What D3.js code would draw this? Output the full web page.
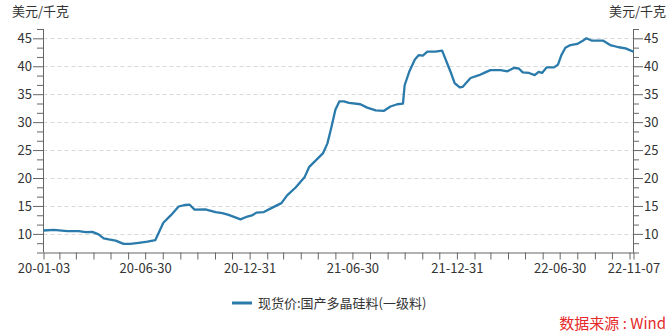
<html>
<head>
<meta charset="utf-8">
<style>
  body { margin: 0; background: #fff; }
  text { font-family: "Noto Sans CJK SC", "Microsoft YaHei", sans-serif; }
</style>
</head>

<body>
  <svg id="svg" width="670" height="333"></svg>

  <script src="https://cdn.jsdelivr.net/npm/d3@7/dist/d3.min.js"></script>
  <script type="text/javascript">
  // 现货价:国产多晶硅料(一级料), 美元/千克
  let dates = [
    "2020-01-03","2020-01-21","2020-02-14","2020-03-05","2020-03-17","2020-03-29",
    "2020-04-09","2020-04-18","2020-04-27","2020-05-09","2020-05-23","2020-06-04",
    "2020-06-22","2020-07-04","2020-07-18","2020-08-01","2020-08-14","2020-08-28",
    "2020-09-09","2020-09-16","2020-09-25","2020-10-14","2020-11-01","2020-11-13",
    "2020-11-24","2020-12-15","2020-12-27","2021-01-04","2021-01-12","2021-01-25",
    "2021-02-09","2021-02-25","2021-03-07","2021-03-22","2021-04-07","2021-04-15",
    "2021-04-27","2021-05-09","2021-05-17","2021-05-24","2021-05-31","2021-06-07",
    "2021-06-15","2021-06-24","2021-07-14","2021-07-26","2021-08-10","2021-08-24",
    "2021-09-05","2021-09-17","2021-09-27","2021-09-30","2021-10-08","2021-10-18",
    "2021-10-25","2021-11-01","2021-11-09","2021-11-23","2021-12-05","2021-12-14",
    "2021-12-21","2021-12-27","2022-01-05","2022-01-10","2022-01-24","2022-02-08",
    "2022-02-19","2022-02-28","2022-03-18","2022-03-30","2022-04-10","2022-04-19",
    "2022-04-26","2022-05-07","2022-05-17","2022-05-24","2022-05-30","2022-06-07",
    "2022-06-20","2022-06-27","2022-07-03","2022-07-10","2022-07-19","2022-07-31",
    "2022-08-09","2022-08-16","2022-08-25","2022-09-04","2022-09-14","2022-09-27",
    "2022-10-12","2022-10-24","2022-11-07"
  ];
  let prices = [
    10.6,10.7,10.5,10.5,10.3,10.35,
    9.9,9.2,9.0,8.8,8.2,8.2,
    8.45,8.6,8.9,12.0,13.3,14.9,
    15.2,15.25,14.35,14.4,13.9,13.7,
    13.4,12.6,13.1,13.3,13.8,13.9,
    14.7,15.5,16.9,18.3,20.2,22.0,
    23.2,24.4,26.2,29.1,32.2,33.7,
    33.7,33.45,33.2,32.6,32.1,32.0,
    32.8,33.2,33.3,36.6,39.0,41.2,
    42.0,41.9,42.6,42.6,42.8,40.5,
    38.7,37.0,36.2,36.3,37.9,38.4,
    38.9,39.3,39.3,39.1,39.7,39.6,
    38.9,38.8,38.4,39.0,38.8,39.8,
    39.8,40.3,42.0,43.3,43.8,44.0,
    44.5,45.0,44.6,44.6,44.6,43.8,
    43.4,43.2,42.6
  ];
  let xLabels = ["2020-01-03","2020-06-30","2020-12-31","2021-06-30","2021-12-31","2022-06-30","2022-11-07"];
  let yLabels = [10, 15, 20, 25, 30, 35, 40, 45];
  let seriesName = "现货价:国产多晶硅料(一级料)";
  let unit = "美元/千克";
  let source = "数据来源 : Wind";

  let parse = d3.timeParse("%Y-%m-%d");
  let fmt = d3.timeFormat("%y-%m-%d");
  let data = dates.map((d,i) => ({date: parse(d), v: prices[i]}));

  let L = 43.5, R = 633.5, T = 29, B = 252.5;
  let svg = d3.select("#svg");

  let x = d3.scaleTime()
    .domain([parse(dates[0]), parse(dates[dates.length-1])])
    .range([L, R]);
  let y = d3.scaleLinear().domain([20/3, 140/3]).range([B, T]);

  // grid
  svg.append("g").selectAll("line").data(yLabels).join("line")
    .attr("x1", L).attr("x2", R)
    .attr("y1", d => Math.round(y(d)) + 0.5).attr("y2", d => Math.round(y(d)) + 0.5)
    .attr("stroke", "#d9d9d9").attr("stroke-dasharray", "4,3");

  // y ticks: every 5/3
  let yTicks = d3.range(0, 25).map(i => 20/3 + i*5/3);
  let isMajor = v => Math.abs(v/5 - Math.round(v/5)) < 1e-6;

  function yAxis(g, left) {
    let ax = (left ? d3.axisLeft(y) : d3.axisRight(y))
      .tickValues(yTicks)
      .tickSize(6)
      .tickFormat(d => isMajor(d) ? d3.format("d")(Math.round(d)) : "");
    g.call(ax);
    g.select(".domain").attr("stroke", "#666").attr("d", `M0.5,${T}V${B}`);
    g.selectAll(".tick line").attr("stroke", "#666")
      .attr("x2", d => (left ? -1 : 1) * (isMajor(d) ? 10 : 6));
    g.selectAll(".tick text")
      .attr("x", left ? -11 : 11)
      .attr("fill", "#333").style("font-size", "13px");
  }
  svg.append("g").attr("transform", `translate(${L-0.5},0)`).call(g => yAxis(g, true));
  svg.append("g").attr("transform", `translate(${R-0.5},0)`).call(g => yAxis(g, false));

  // x axis
  let monthEnds = d3.timeMonths(parse("2020-02-01"), parse("2022-11-02")).map(d => d3.timeDay.offset(d, -1));
  let xTicks = [parse(dates[0])].concat(monthEnds, [parse(dates[dates.length-1])]);
  let labelSet = new Set(xLabels);
  let xa = svg.append("g").attr("transform", `translate(0,${B})`)
    .call(d3.axisBottom(x).tickValues(xTicks).tickSize(7)
      .tickFormat(d => labelSet.has(d3.timeFormat("%Y-%m-%d")(d)) ? fmt(d) : ""));
  xa.select(".domain").attr("stroke", "#666").attr("d", `M${L},0.5H${R}`);
  xa.selectAll(".tick line").attr("stroke", "#666");
  xa.selectAll(".tick text").attr("fill", "#333").attr("y", 11).style("font-size", "13px");

  // line
  svg.append("path").datum(data)
    .attr("fill", "none")
    .attr("stroke", "#2a7bab")
    .attr("stroke-width", 2.3)
    .attr("stroke-linejoin", "round")
    .attr("d", d3.line().x(d => x(d.date)).y(d => y(d.v)));

  // unit labels
  svg.append("text").attr("x", 12).attr("y", 16).attr("fill", "#333")
    .style("font-size", "13px").text(unit);
  svg.append("text").attr("x", 666).attr("y", 16).attr("fill", "#333")
    .attr("text-anchor", "end").style("font-size", "13px").text(unit);

  // legend
  svg.append("line").attr("x1", 232).attr("x2", 252).attr("y1", 303).attr("y2", 303)
    .attr("stroke", "#2a7bab").attr("stroke-width", 3);
  svg.append("text").attr("x", 258).attr("y", 308).attr("fill", "#333")
    .style("font-size", "13px").text(seriesName);

  // source
  svg.append("text").attr("x", 666).attr("y", 329).attr("fill", "#e5292a")
    .attr("text-anchor", "end").style("font-size", "15px").text(source);
  </script>
</body>
</html>
